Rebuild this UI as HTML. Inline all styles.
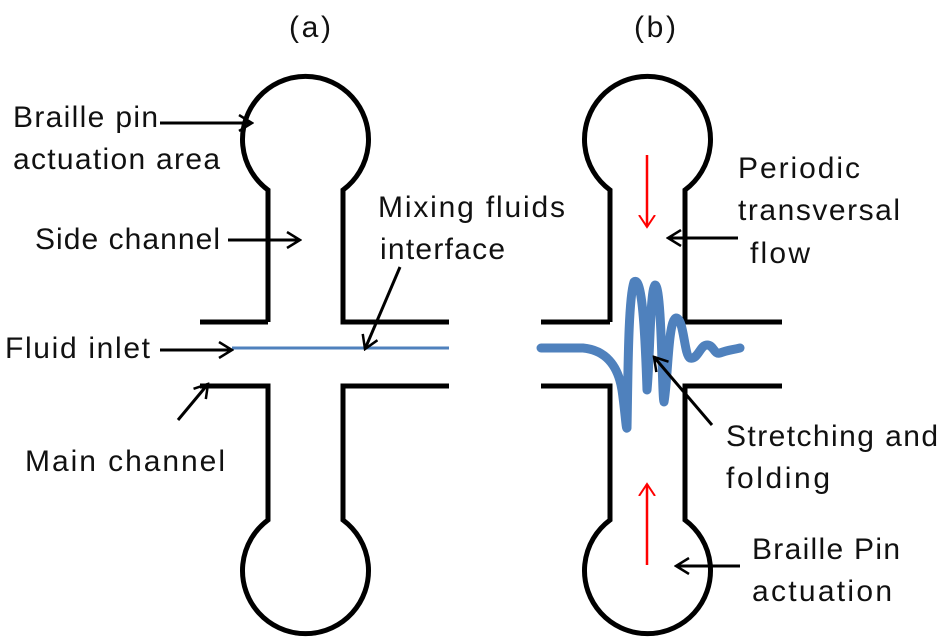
<!DOCTYPE html>
<html><head><style>body{margin:0;background:#fff}svg{display:block}text{font-family:"Liberation Sans",sans-serif;font-size:30px;fill:#111}</style></head>
<body>
<svg width="947" height="642" viewBox="0 0 947 642">
<defs>
<marker id="ah" markerWidth="16" markerHeight="18" refX="14" refY="9" orient="auto" markerUnits="userSpaceOnUse"><path d="M1,1 L14,9 L1,17" fill="none" stroke="#000" stroke-width="2.5"/></marker>
<marker id="rh" markerWidth="14" markerHeight="18" refX="12" refY="9" orient="auto" markerUnits="userSpaceOnUse"><path d="M0,1 L12,9 L0,17" fill="none" stroke="#f00" stroke-width="2"/></marker>
</defs>
<g fill="none" stroke="#000" stroke-width="5">
<path d="M268,322 V190 A63,63 0 1 1 343,190 V322 H449"/>
<path d="M200,322 H268"/>
<path d="M200,386 H268 V520 A63,63 0 1 0 343,520 V386 H449"/>
<path d="M610,322 V190 A63,63 0 1 1 685,190 V322 H782"/>
<path d="M541,322 H610"/>
<path d="M541,386 H610 V520 A63,63 0 1 0 685,520 V386 H782"/>
</g>
<line x1="232" y1="348" x2="449" y2="348" stroke="#4f81bd" stroke-width="3"/>
<path d="M541,348 L583,348 C605,350 618,365 622,390 C625,410 626,430 627,428 C628,380 628,300 634,282 C642,275 645,330 647,390 C650,360 650,290 655,285 C662,285 662,400 664,402 C668,380 668,320 676,318 C684,318 684,355 690,358 C698,360 700,345 707,345 C714,345 714,355 720,353 C728,350 732,350 740,348" fill="none" stroke="#4f81bd" stroke-width="9" stroke-linecap="round" stroke-linejoin="round"/>
<g stroke="#000" stroke-width="3" fill="none" marker-end="url(#ah)">
<line x1="160" y1="123" x2="252" y2="123"/>
<line x1="228" y1="240" x2="300" y2="240"/>
<line x1="400" y1="267" x2="365" y2="349"/>
<line x1="160" y1="350" x2="232" y2="350"/>
<line x1="178" y1="420" x2="208" y2="384"/>
<line x1="738" y1="238" x2="668" y2="238"/>
<line x1="712" y1="425" x2="654" y2="357"/>
<line x1="740" y1="566" x2="676" y2="566"/>
</g>
<g stroke="#f00" stroke-width="2.5" marker-end="url(#rh)">
<line x1="647" y1="155" x2="647" y2="227"/>
<line x1="647" y1="565" x2="647" y2="484"/>
</g>
<text x="289" y="37" textLength="42">(a)</text>
<text x="634" y="37" textLength="42">(b)</text>
<text x="13" y="127" textLength="145">Braille pin</text>
<text x="13" y="169" textLength="207">actuation area</text>
<text x="35" y="249" textLength="185">Side channel</text>
<text x="378" y="217" textLength="187">Mixing fluids</text>
<text x="380" y="259" textLength="125">interface</text>
<text x="5" y="358" textLength="145">Fluid inlet</text>
<text x="25" y="471" textLength="200">Main channel</text>
<text x="738" y="178" textLength="122">Periodic</text>
<text x="738" y="220" textLength="162">transversal</text>
<text x="750" y="263" textLength="60">flow</text>
<text x="726" y="446" textLength="212">Stretching and</text>
<text x="726" y="488" textLength="104">folding</text>
<text x="752" y="559" textLength="148">Braille Pin</text>
<text x="752" y="601" textLength="140">actuation</text>
</svg>
</body></html>
